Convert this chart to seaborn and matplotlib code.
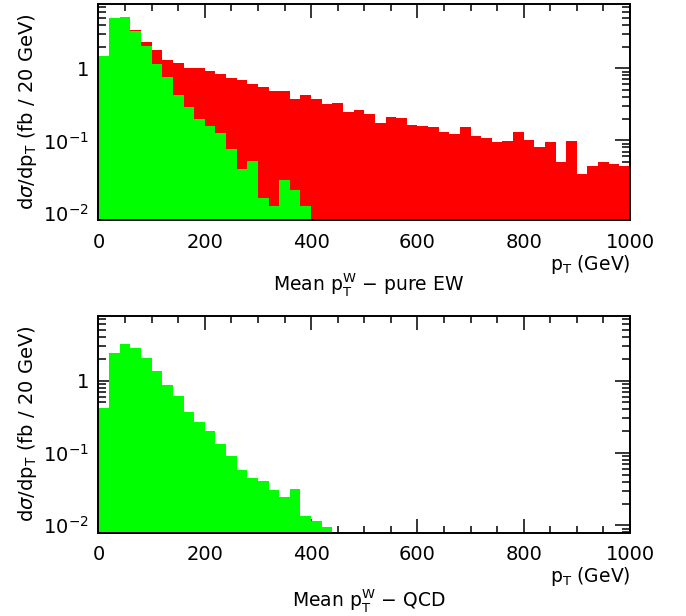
import numpy as np
import seaborn as sns
import matplotlib.pyplot as plt
from matplotlib.ticker import MultipleLocator, LogLocator, NullFormatter

# -------- DATA --------#

bin_edges = list(range(0, 1001, 20))

# pure EW, red (50 bins of 20 GeV)
red_ew = [1.30, 4.20, 4.80, 3.40, 2.34, 1.80, 1.31, 1.17, 1.02, 1.02,
          0.92, 0.84, 0.74, 0.68, 0.61, 0.55, 0.48, 0.48, 0.37, 0.43,
          0.37, 0.325, 0.33, 0.244, 0.26, 0.234, 0.176, 0.213, 0.203, 0.166,
          0.161, 0.156, 0.129, 0.121, 0.153, 0.115, 0.109, 0.094, 0.099, 0.133,
          0.103, 0.081, 0.096, 0.0497, 0.099, 0.0342, 0.0437, 0.0497, 0.0466, 0.0437]

# pure EW, green
green_ew = [1.47, 4.98, 5.19, 3.25, 2.06, 1.13, 0.76, 0.43, 0.295, 0.20,
            0.16, 0.125, 0.077, 0.040, 0.052, 0.0161, 0.0122, 0.0282, 0.0203, 0.0122] + [0] * 30

# QCD, green
green_qcd = [0.416, 2.41, 3.21, 2.80, 2.06, 1.36, 0.87, 0.615, 0.374, 0.264,
             0.20, 0.135, 0.0915, 0.0587, 0.0451, 0.0414, 0.0304, 0.0246, 0.0321, 0.0135,
             0.0115, 0.0095] + [0] * 28

y_ticks = [1, 0.1, 0.01]
y_tick_labels = ['1', r'$10^{-1}$', r'$10^{-2}$']
x_ticks = [0, 200, 400, 600, 800, 1000]

titles = [r'Mean p$_\mathregular{T}^\mathregular{W}$ $-$ pure EW',
          r'Mean p$_\mathregular{T}^\mathregular{W}$ $-$ QCD']

# -------- PLOT --------#

sns.set_style("ticks")
plt.rcParams['font.family'] = ['DejaVu Sans']
plt.rcParams['mathtext.fontset'] = 'dejavusans'
plt.rcParams['text.color'] = 'black'
plt.rcParams['axes.labelcolor'] = 'black'
plt.rcParams['xtick.color'] = 'black'
plt.rcParams['ytick.color'] = 'black'
plt.rcParams['axes.edgecolor'] = 'black'

W, H = 686, 616
fig = plt.figure(figsize=(W / 100, H / 100), dpi=100)

centers = [e + 10 for e in bin_edges[:-1]]

ax_top = fig.add_axes([98.5 / W, 1 - 220 / H, (630 - 98.5) / W, (220 - 3.5) / H])
ax_bot = fig.add_axes([98.5 / W, 1 - 532.7 / H, (630 - 98.5) / W, (532.7 - 315.7) / H])

sns.histplot(x=centers, weights=red_ew, bins=bin_edges, ax=ax_top,
             color='#ff0000', alpha=1, linewidth=0)
sns.histplot(x=centers, weights=green_ew, bins=bin_edges, ax=ax_top,
             color='#00ff00', alpha=1, linewidth=0)
sns.histplot(x=centers, weights=green_qcd, bins=bin_edges, ax=ax_bot,
             color='#00ff00', alpha=1, linewidth=0)

label_y = [265, 576]
title_y = [285, 600]

for i, ax in enumerate([ax_top, ax_bot]):
    ax.set_yscale('log')
    ax.set_xlim(0, 1000)
    ax.set_ylim(0.0079, 7.9)
    ax.set_yticks(y_ticks, y_tick_labels)
    ax.yaxis.set_minor_locator(LogLocator(base=10, subs=np.arange(2, 10)))
    ax.yaxis.set_minor_formatter(NullFormatter())
    ax.set_xticks(x_ticks)
    ax.xaxis.set_minor_locator(MultipleLocator(50))
    ax.tick_params(axis='both', which='both', direction='in', top=True, right=True,
                   width=1.1, labelsize=14)
    ax.tick_params(axis='x', which='major', length=10, pad=9)
    ax.tick_params(axis='x', which='minor', length=5)
    ax.tick_params(axis='y', which='major', length=11, pad=7)
    ax.tick_params(axis='y', which='minor', length=6)
    for sp in ax.spines.values():
        sp.set_linewidth(1.4)
    ax.set_xlabel('')
    ax.set_ylabel(r'd$\sigma$/dp$_\mathregular{T}$ (fb / 20 GeV)', fontsize=14, labelpad=3)

    fig.text(630 / W, 1 - label_y[i] / H, r'p$_\mathregular{T}$ (GeV)',
             ha='right', va='center', fontsize=13.5)
    fig.text(369 / W, 1 - title_y[i] / H, titles[i],
             ha='center', va='center', fontsize=13.5)

fig.savefig('out.png', dpi=100)
